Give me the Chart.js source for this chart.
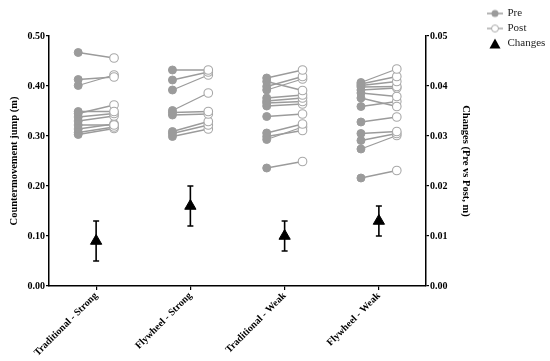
<!DOCTYPE html>
<html><head><meta charset="utf-8">
<script src="https://cdn.jsdelivr.net/npm/chart.js@4/dist/chart.umd.min.js"></script>
<style>html,body{margin:0;padding:0;background:#fff}#wrap{width:550px;height:361px}</style>
</head><body><div id="wrap"><canvas id="c" width="550" height="361"></canvas></div>
<script>
const categories = ['Traditional - Strong', 'Flywheel - Strong', 'Traditional - Weak', 'Flywheel - Weak'];

// paired values (index k = same subject)
const preTS  = [0.467, 0.413, 0.401, 0.349, 0.345, 0.338, 0.330, 0.322, 0.314, 0.307, 0.303];
const postTS = [0.456, 0.418, 0.422, 0.349, 0.362, 0.345, 0.340, 0.322, 0.324, 0.318, 0.315];

const preFS  = [0.432, 0.412, 0.392, 0.351, 0.347, 0.342, 0.309, 0.305, 0.299];
const postFS = [0.432, 0.428, 0.422, 0.386, 0.349, 0.344, 0.329, 0.322, 0.314];

const preTW  = [0.416, 0.409, 0.399, 0.392, 0.376, 0.370, 0.366, 0.360, 0.339, 0.306, 0.299, 0.293, 0.236];
const postTW = [0.432, 0.391, 0.419, 0.414, 0.382, 0.376, 0.369, 0.364, 0.344, 0.324, 0.311, 0.318, 0.249];

const preFW  = [0.407, 0.404, 0.401, 0.398, 0.392, 0.386, 0.376, 0.359, 0.328, 0.305, 0.291, 0.274, 0.216];
const postFW = [0.434, 0.419, 0.409, 0.399, 0.396, 0.379, 0.359, 0.369, 0.338, 0.309, 0.305, 0.301, 0.231];

const changeMean = [0.009, 0.016, 0.010, 0.013];
const changeLow  = [0.005, 0.012, 0.007, 0.010];
const changeHigh = [0.013, 0.020, 0.013, 0.016];

const leftTicks  = [0.00, 0.10, 0.20, 0.30, 0.40, 0.50];
const rightTicks = [0.00, 0.01, 0.02, 0.03, 0.04, 0.05];

const groups = [[preTS, postTS], [preFS, postFS], [preTW, postTW], [preFW, postFW]];

const SERIF = "'Liberation Serif','Times New Roman',serif";
const OFF = 0.19;
const GREY = '#9b9b9b';

function mk(w, h, draw) { const c = document.createElement('canvas'); c.width = w; c.height = h; draw(c.getContext('2d')); return c; }
const preIcon = mk(16, 10, g => { g.strokeStyle = GREY; g.lineWidth = 1.5; g.beginPath(); g.moveTo(0, 5); g.lineTo(16, 5); g.stroke(); g.fillStyle = GREY; g.beginPath(); g.arc(8, 5, 3.5, 0, Math.PI * 2); g.fill(); });
const postIcon = mk(16, 10, g => { g.strokeStyle = '#aaa'; g.lineWidth = 1.5; g.beginPath(); g.moveTo(0, 5); g.lineTo(16, 5); g.stroke(); g.fillStyle = '#fff'; g.lineWidth = 1; g.beginPath(); g.arc(8, 5, 3.5, 0, Math.PI * 2); g.fill(); g.stroke(); });
const triIcon = mk(12, 11, g => { g.fillStyle = '#000'; g.beginPath(); g.moveTo(6, 0.5); g.lineTo(11.5, 10.5); g.lineTo(0.5, 10.5); g.closePath(); g.fill(); });

const datasets = [];
groups.forEach((g, gi) => {
  g[0].forEach((p, k) => {
    datasets.push({
      type: 'line', label: categories[gi] + ' ' + (k + 1),
      data: [{ x: gi - OFF, y: p }, { x: gi + OFF, y: g[1][k] }],
      borderColor: GREY, borderWidth: 1.3,
      pointRadius: [4, 4.3], pointBackgroundColor: [GREY, '#fff'],
      pointBorderColor: [GREY, '#a8a8a8'], pointBorderWidth: [1, 1.1],
      xAxisID: 'x', yAxisID: 'y', order: 2
    });
  });
});
datasets.push({
  type: 'scatter', label: 'Changes',
  data: changeMean.map((v, i) => ({ x: i, y: v })),
  xAxisID: 'x', yAxisID: 'y1', pointStyle: 'triangle', pointRadius: 6.5,
  backgroundColor: '#000', borderColor: '#000', order: 0
});

const errorBars = {
  id: 'errorBars',
  beforeDatasetsDraw(chart) {
    const { ctx } = chart; const x = chart.scales.x, y1 = chart.scales.y1;
    ctx.save(); ctx.strokeStyle = '#000'; ctx.lineWidth = 1.6;
    changeMean.forEach((m, i) => {
      const px = x.getPixelForValue(i);
      const t = y1.getPixelForValue(changeHigh[i]);
      const b = y1.getPixelForValue(changeLow[i]);
      ctx.beginPath();
      ctx.moveTo(px, t); ctx.lineTo(px, b);
      ctx.moveTo(px - 3, t); ctx.lineTo(px + 3, t);
      ctx.moveTo(px - 3, b); ctx.lineTo(px + 3, b);
      ctx.stroke();
    });
    ctx.restore();
  }
};

const tickFont = { family: SERIF, size: 10, weight: 'bold' };
const titleFont = { family: SERIF, size: 10.5, weight: 'bold' };
const axisGrid = { drawOnChartArea: false, drawTicks: true, tickLength: 3, color: '#000', lineWidth: 1.2 };
const axisBorder = { display: true, color: '#000', width: 1.5 };

new Chart(document.getElementById('c'), {
  data: { datasets },
  options: {
    responsive: false, animation: false, devicePixelRatio: 1,
    layout: { padding: { top: 4, left: 0, right: 0, bottom: 0 } },
    plugins: {
      tooltip: { enabled: false },
      title: { display: true, text: '', font: { size: 10, lineHeight: 1 }, padding: { top: 22, bottom: 0 } },
      legend: {
        position: 'right', align: 'start', maxWidth: 66, onClick: null,
        labels: {
          usePointStyle: true, pointStyleWidth: 14, padding: 4,
          font: { family: SERIF, size: 11 }, color: '#222',
          generateLabels: () => [
            { text: 'Pre', pointStyle: preIcon, fillStyle: GREY, strokeStyle: GREY, lineWidth: 0, hidden: false, fontColor: '#222' },
            { text: 'Post', pointStyle: postIcon, fillStyle: '#fff', strokeStyle: GREY, lineWidth: 0, hidden: false, fontColor: '#222' },
            { text: 'Changes', pointStyle: triIcon, fillStyle: '#000', strokeStyle: '#000', lineWidth: 0, hidden: false, fontColor: '#222' }
          ]
        }
      }
    },
    scales: {
      x: {
        type: 'linear', min: -0.5, max: 3.5,
        afterBuildTicks: s => { s.ticks = categories.map((c, i) => ({ value: i })); },
        ticks: { callback: v => categories[v], minRotation: 45, maxRotation: 45, autoSkip: false, font: tickFont, color: '#000', padding: 0 },
        grid: Object.assign({}, axisGrid, { tickLength: 4 }), border: axisBorder,
        afterFit: s => { s.height = 75; }
      },
      y: {
        type: 'linear', position: 'left', min: 0, max: 0.5,
        afterBuildTicks: s => { s.ticks = leftTicks.map(v => ({ value: v })); },
        ticks: { callback: v => v.toFixed(2), font: tickFont, color: '#000', padding: 1 },
        grid: axisGrid, border: axisBorder,
        title: { display: true, text: 'Countermovement jump (m)', font: titleFont, color: '#000', padding: { top: 8, bottom: 0 } },
        afterFit: s => { s.width = 49; }
      },
      y1: {
        type: 'linear', position: 'right', min: 0, max: 0.05,
        afterBuildTicks: s => { s.ticks = rightTicks.map(v => ({ value: v })); },
        ticks: { callback: v => v.toFixed(2), font: tickFont, color: '#000', padding: 1 },
        grid: axisGrid, border: axisBorder,
        title: { display: true, text: 'Changes (Pre vs Post, m)', font: titleFont, color: '#000', padding: { top: 12, bottom: 0 } },
        afterFit: s => { s.width = 58; }
      }
    }
  },
  plugins: [errorBars]
});
</script>
</body></html>
